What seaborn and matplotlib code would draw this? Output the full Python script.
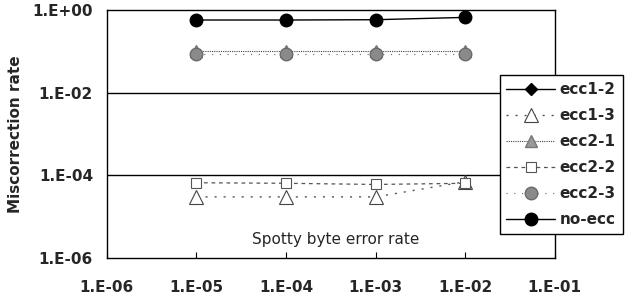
import numpy as np
import pandas as pd
import matplotlib
matplotlib.use("Agg")
import matplotlib.pyplot as plt
import seaborn as sns

error_rate = [1e-5, 1e-4, 1e-3, 1e-2]
ecc1_2 = [np.nan, np.nan, np.nan, np.nan]
ecc1_3 = [3.0e-5, 3.0e-5, 3.0e-5, 7.0e-5]
ecc2_1 = [0.10, 0.10, 0.10, 0.10]
ecc2_2 = [6.6e-5, 6.4e-5, 6.0e-5, 6.4e-5]
ecc2_3 = [0.088, 0.088, 0.088, 0.088]
no_ecc = [0.57, 0.57, 0.58, 0.66]

series = {"ecc1-2": ecc1_2, "ecc1-3": ecc1_3, "ecc2-1": ecc2_1,
          "ecc2-2": ecc2_2, "ecc2-3": ecc2_3, "no-ecc": no_ecc}
x_ticks = [1e-6, 1e-5, 1e-4, 1e-3, 1e-2, 1e-1]
x_ticklabels = ["1.E-06", "1.E-05", "1.E-04", "1.E-03", "1.E-02", "1.E-01"]
y_ticks = [1e-6, 1e-4, 1e-2, 1e0]
y_ticklabels = ["1.E-06", "1.E-04", "1.E-02", "1.E+00"]

sns.set_theme(style="white")
plt.rcParams['font.family'] = ['DejaVu Sans']

fig = plt.figure(figsize=(6.29, 3.01), dpi=100)
ax = fig.add_axes([0.170, 0.143, 0.712, 0.824])

styles = {
    "ecc1-2": dict(color="black", lw=1.0, ls="-", marker="D", ms=6, mfc="black", mec="black"),
    "ecc1-3": dict(color="#555555", lw=1.0, ls=(0, (1.5, 5)), marker="^", ms=10, mfc="white", mec="#444444", mew=0.8),
    "ecc2-1": dict(color="#444444", lw=0.8, ls=(0, (1, 1)), marker="^", ms=9, mfc="#9a9a9a", mec="#777777"),
    "ecc2-2": dict(color="#555555", lw=0.9, ls=(0, (3, 3)), marker="s", ms=7, mfc="white", mec="#555555", mew=0.8),
    "ecc2-3": dict(color="#666666", lw=0.8, ls=(0, (1, 6)), marker="o", ms=9, mfc="#8a8a8a", mec="#6a6a6a"),
    "no-ecc": dict(color="black", lw=1.0, ls="-", marker="o", ms=9, mfc="black", mec="black"),
}

for name, vals in series.items():
    df = pd.DataFrame({"x": error_rate, "y": vals})
    st = styles[name]
    sns.lineplot(data=df, x="x", y="y", ax=ax, label=name, color=st["color"],
                 linewidth=st["lw"], linestyle=st["ls"], marker=st["marker"],
                 markersize=st["ms"], markerfacecolor=st["mfc"],
                 markeredgecolor=st["mec"], markeredgewidth=st.get("mew", 1.0),
                 legend=False)

ax.set_xscale("log")
ax.set_yscale("log")
ax.set_xlim(1e-6, 1e-1)
ax.set_ylim(1e-6, 1e0)
ax.set_xticks(x_ticks)
ax.set_xticklabels(x_ticklabels, fontsize=11, fontweight="bold")
ax.set_yticks(y_ticks)
ax.set_yticklabels(y_ticklabels, fontsize=11, fontweight="bold")
ax.minorticks_off()
ax.tick_params(axis="x", direction="in", length=4, width=0.8, color="black", bottom=True, pad=16)
ax.tick_params(axis="y", length=0, pad=10)
for yv in [1e-2, 1e-4]:
    ax.axhline(yv, color="black", lw=1.0, zorder=0)
for s in ax.spines.values():
    s.set_color("black")
    s.set_linewidth(1.0)

ax.set_xlabel("")
ax.set_ylabel("")
fig.text(16 / 629, 0.555, "Miscorrection rate", rotation=90, ha="center", va="center",
         fontsize=11, fontweight="bold")
ax.text(0.51, 0.075, "Spotty byte error rate", transform=ax.transAxes,
        ha="center", va="center", fontsize=11)

handles, labels = ax.get_legend_handles_labels()
leg = fig.legend(handles, labels, loc="upper left", bbox_to_anchor=(0.782, 0.775),
                 frameon=True, fancybox=False, framealpha=1, edgecolor="black",
                 handlelength=3.2, handletextpad=0.3, labelspacing=0.72,
                 prop=dict(size=11, weight="bold"), borderpad=0.45)
leg.get_frame().set_linewidth(1.0)

fig.savefig("out.png", dpi=100)
